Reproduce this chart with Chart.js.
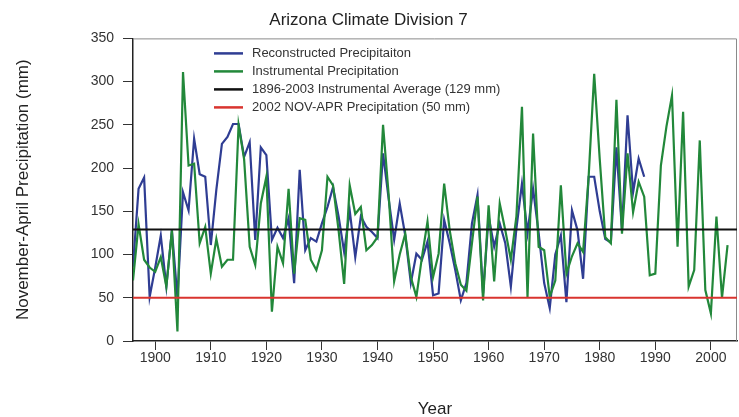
<!DOCTYPE html>
<html><head><meta charset="utf-8">
<script src="https://cdn.jsdelivr.net/npm/chart.js@4"></script>
<style>html,body{margin:0;padding:0;background:#fff}#wrap{width:739px;height:417px}</style>
</head><body><div id="wrap"><canvas id="c" width="739" height="417"></canvas></div>
<script>
const chartTitle = 'Arizona Climate Division 7';
const xAxisTitle = 'Year';
const yAxisTitle = 'November-April Precipitation (mm)';
const seriesLabels = [
  'Reconstructed Precipitaiton',
  'Instrumental Precipitation',
  '1896-2003 Instrumental Average (129 mm)',
  '2002 NOV-APR Precipitation (50 mm)'
];
const firstYear = 1896;
// Instrumental precipitation 1896-2003 (mm)
const instrumental = [
  70,135,94,85,80,97,63,128,11,311,
  203,205,113,132,78,118,86,94,94,250,
  210,109,88,159,190,34,109,90,176,78,
  142,140,94,82,105,190,180,128,66,180,
  147,155,105,111,120,250,170,69,100,124,
  74,51,97,138,74,101,182,128,90,65,
  58,113,167,47,157,69,159,128,94,144,
  271,51,240,109,105,51,70,180,78,98,
  113,103,190,309,210,120,113,279,124,217,
  149,184,167,76,78,203,248,284,109,265,
  63,82,232,59,32,144,50,111
];
// Reconstructed precipitation 1896-1988 (mm)
const reconstructed = [
  86,176,189,51,85,122,63,128,50,172,
  151,234,193,190,111,175,228,236,251,251,
  213,230,117,224,215,117,131,119,142,67,
  198,105,119,115,136,155,178,144,103,151,
  97,144,132,126,119,217,165,117,159,122,
  67,101,94,115,53,55,140,113,82,47,
  67,136,169,55,144,109,136,113,63,130,
  182,125,176,125,67,38,100,122,45,151,
  128,72,190,190,150,118,114,224,128,261,
  172,211,190
];
const averageValue = 129;
const value2002 = 50;
const xTickYears = [1900,1910,1920,1930,1940,1950,1960,1970,1980,1990,2000];
const yTickValues = [0,50,100,150,200,250,300,350];
const xRange = [1896, 2004.7];
const yRange = [0, 350];

const toPoints = arr => arr.map((v, i) => ({x: firstYear + i, y: v}));
const flatLine = v => [{x: xRange[0], y: v}, {x: xRange[1], y: v}];

const FONT = '"Liberation Sans", Arial, Helvetica, sans-serif';

const insideLegend = {
  id: 'insideLegend',
  afterDatasetsDraw(chart) {
    const ctx = chart.ctx, a = chart.chartArea;
    const x0 = a.left + 81, y0 = a.top + 15, dy = 18;
    chart.data.datasets.forEach((ds, i) => {
      const y = y0 + i * dy;
      ctx.save();
      ctx.strokeStyle = ds.borderColor; ctx.lineWidth = 2.5;
      ctx.beginPath(); ctx.moveTo(x0, y); ctx.lineTo(x0 + 29, y); ctx.stroke();
      ctx.fillStyle = '#333'; ctx.font = '13px ' + FONT;
      ctx.textBaseline = 'middle'; ctx.textAlign = 'left';
      ctx.fillText(ds.label, x0 + 38, y + 0.5);
      ctx.restore();
    });
  }
};
const frame = {
  id: 'frame',
  beforeDatasetsDraw(chart) {
    const ctx = chart.ctx, a = chart.chartArea;
    ctx.save(); ctx.strokeStyle = '#8a8a8a'; ctx.lineWidth = 1;
    ctx.beginPath();
    ctx.moveTo(a.left, a.top + 0.5); ctx.lineTo(a.right - 0.5, a.top + 0.5); ctx.lineTo(a.right - 0.5, a.bottom);
    ctx.stroke(); ctx.restore();
  }
};

new Chart(document.getElementById('c'), {
  type: 'line',
  data: {
    datasets: [
      {label: seriesLabels[0], data: toPoints(reconstructed), borderColor: '#2f3d93', borderWidth: 2.2, order: 4},
      {label: seriesLabels[1], data: toPoints(instrumental), borderColor: '#22883a', borderWidth: 2.2, order: 3},
      {label: seriesLabels[2], data: flatLine(averageValue), borderColor: '#111111', borderWidth: 2, order: 2},
      {label: seriesLabels[3], data: flatLine(value2002), borderColor: '#d9342f', borderWidth: 2, order: 1}
    ]
  },
  options: {
    responsive: false, animation: false, devicePixelRatio: 1,
    layout: {padding: {left: 0, right: 2, top: 0, bottom: 0}},
    elements: {point: {radius: 0}, line: {tension: 0}},
    plugins: {
      legend: {display: false}, tooltip: {enabled: false},
      title: {display: true, text: chartTitle, color: '#222', font: {family: FONT, size: 17, weight: 'normal'}, padding: {top: 10, bottom: 8}}
    },
    scales: {
      x: {
        type: 'linear', min: xRange[0], max: xRange[1],
        afterBuildTicks: s => { s.ticks = xTickYears.map(v => ({value: v})); },
        afterFit: s => { s.height = 76; },
        ticks: {color: '#333', font: {family: FONT, size: 14}, padding: 0, maxRotation: 0, autoSkip: false, callback: v => String(v)},
        grid: {display: true, drawOnChartArea: false, drawTicks: true, tickLength: 9, color: '#333'},
        border: {display: true, color: '#222', width: 1.5},
        title: {display: true, text: xAxisTitle, color: '#222', font: {family: FONT, size: 17}, padding: {top: 0, bottom: -3}}
      },
      y: {
        type: 'linear', min: yRange[0], max: yRange[1],
        afterBuildTicks: s => { s.ticks = yTickValues.map(v => ({value: v})); },
        afterFit: s => { s.width = 133; },
        ticks: {color: '#333', font: {family: FONT, size: 14}, padding: 9, callback: v => String(v)},
        grid: {display: true, drawOnChartArea: false, drawTicks: true, tickLength: 10, color: '#333'},
        border: {display: true, color: '#222', width: 1.5},
        title: {display: true, text: yAxisTitle, color: '#222', font: {family: FONT, size: 17}, padding: {top: 13, bottom: 0}}
      }
    }
  },
  plugins: [frame, insideLegend]
});
</script></body></html>
